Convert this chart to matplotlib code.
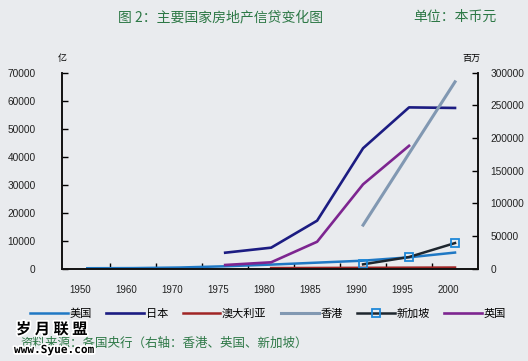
import numpy as np
import matplotlib
matplotlib.use("Agg")
from matplotlib import pyplot as plt
import matplotlib.patheffects as pe
from matplotlib.transforms import ScaledTranslation

plt.rcParams['font.family'] = ['Noto Sans CJK SC', 'DejaVu Sans']

years = ['1950', '1960', '1970', '1975', '1980', '1985', '1990', '1995', '2000']

# left axis (亿)
usa = [100, 150, 350, 800, 1400, 2100, 2800, 4000, 5700]
japan = [np.nan, np.nan, np.nan, 5650, 7450, 17100, 43000, 57600, 57400]
australia = [np.nan, np.nan, np.nan, np.nan, 150, 200, 250, 300, 350]

# right axis (百万)
hongkong = [np.nan, np.nan, np.nan, np.nan, np.nan, np.nan, 66500, np.nan, 286000]
singapore = [np.nan, np.nan, np.nan, np.nan, np.nan, np.nan, 6400, 17600, 39000]
uk = [np.nan, np.nan, np.nan, 5400, 9500, 41000, 129000, 188000, np.nan]

green = '#2d7846'
bg = '#e9ebee'

fig = plt.figure(figsize=(5.28, 3.61), dpi=100, facecolor=bg)
ax = fig.add_axes([0.1174, 0.2562, 0.7879, 0.5424])
ax.set_facecolor('none')
ax2 = ax.twinx()

x = np.arange(len(years))

def plot_valid(a, vals, **kw):
    vals = np.array(vals, dtype=float)
    m = ~np.isnan(vals)
    return a.plot(x[m], vals[m], **kw)[0]

h_us = plot_valid(ax, usa, color='#1f78c4', lw=1.8, label='美国')
h_jp = plot_valid(ax, japan, color='#1c1c82', lw=1.9, label='日本')
h_au = plot_valid(ax, australia, color='#a02525', lw=1.8, label='澳大利亚')
h_hk = plot_valid(ax2, hongkong, color='#8198b2', lw=2.2, label='香港')
h_sg = plot_valid(ax2, singapore, color='#1e262e', lw=1.8, marker='s', ms=5.5,
                  mfc='none', mec='#1e88d8', mew=1.3, label='新加坡')
h_uk = plot_valid(ax2, uk, color='#7d2590', lw=1.9, label='英国')

ax.set_xlim(-0.55, 8.5)
ax.set_ylim(0, 70000)
ax2.set_ylim(0, 300000)
ax.set_yticks(np.arange(0, 70001, 10000))
ax2.set_yticks(np.arange(0, 300001, 50000))

for a in (ax, ax2):
    a.spines['top'].set_visible(False)
    for s in a.spines.values():
        s.set_linewidth(1.2)
        s.set_color('#111111')

ax.set_xticks(x)
ax.set_xticklabels(years)
ax.set_xticks(np.arange(0.5, 8, 1), minor=True)
ax.tick_params(axis='x', which='major', length=0, pad=12, labelsize=7, labelcolor='#222222')
ax.tick_params(axis='x', which='minor', direction='in', length=4, width=1)
ax.tick_params(axis='y', direction='in', length=4, width=1, pad=19, labelsize=7.3, labelcolor='#222222')
ax2.tick_params(axis='y', direction='in', length=4, width=1, pad=9, labelsize=7.3, labelcolor='#222222')
for lbl in ax.get_xticklabels() + ax.get_yticklabels() + ax2.get_yticklabels():
    lbl.set_family(['Liberation Sans', 'DejaVu Sans'])
for lbl in ax.get_xticklabels():
    lbl.set_transform(lbl.get_transform() + ScaledTranslation(-7 / 100, 0, fig.dpi_scale_trans))

fig.text(62 / 528, 1 - 58 / 361, '亿', ha='center', va='center', fontsize=6.5)
fig.text(471 / 528, 1 - 58 / 361, '百万', ha='center', va='center', fontsize=6.5)

fig.text(221 / 528, 1 - 17 / 361, '图 2：主要国家房地产信贷变化图', ha='center', va='center',
         fontsize=10, color=green)
fig.text(455 / 528, 1 - 17 / 361, '单位：本币元', ha='center', va='center',
         fontsize=10, color=green)

leg = fig.legend(handles=[h_us, h_jp, h_au, h_hk, h_sg, h_uk], loc='center',
                 bbox_to_anchor=(0.508, 1 - 314 / 361), ncol=6, frameon=False,
                 fontsize=8, handlelength=3.4, handletextpad=0.15, columnspacing=1.3)

fig.text(20 / 528, 1 - 343 / 361, '资料来源：各国央行（右轴：香港、英国、新加坡）',
         ha='left', va='center', fontsize=9, color=green)

wm = [pe.withStroke(linewidth=2.5, foreground='white')]
fig.text(16 / 528, 1 - 329 / 361, '岁 月 联 盟', ha='left', va='center', fontsize=11,
         weight='bold', color='black', path_effects=wm)
fig.text(14 / 528, 1 - 350 / 361, 'www.Syue.com', ha='left', va='center', fontsize=8,
         weight='bold', color='black', family='DejaVu Sans Mono', path_effects=wm)

fig.savefig('out.png', dpi=100, facecolor=bg)
